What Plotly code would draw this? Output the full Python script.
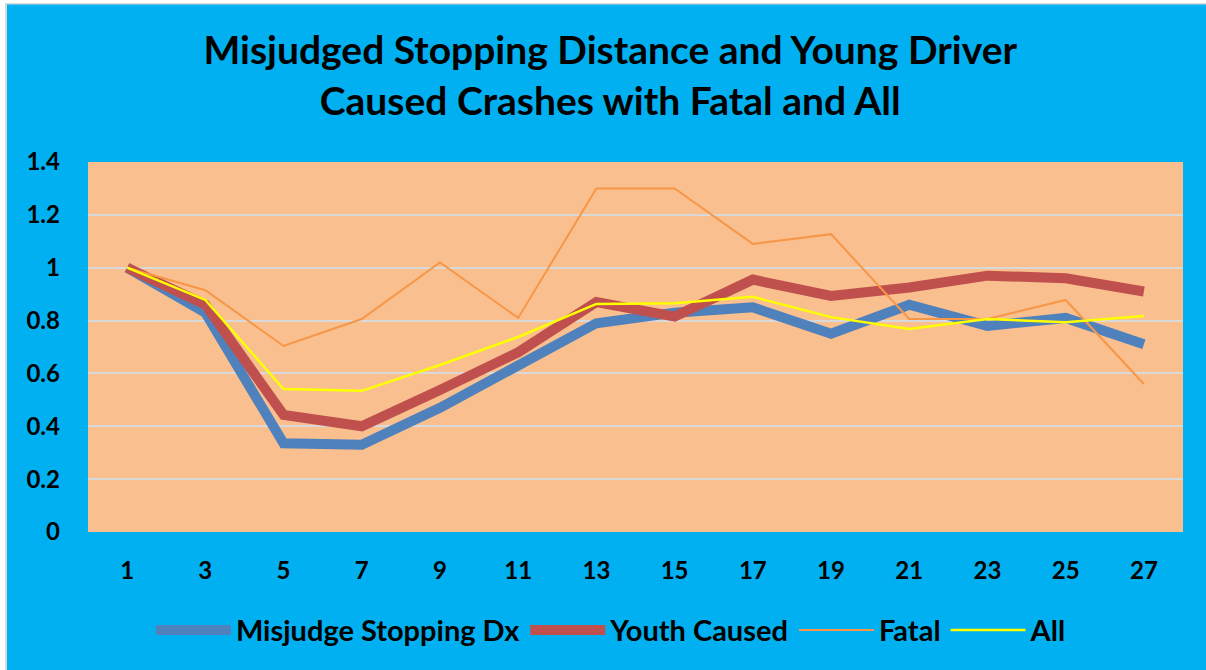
import plotly.graph_objects as go

categories = ["1", "3", "5", "7", "9", "11", "13", "15", "17", "19", "21", "23", "25", "27"]
misjudge = [1.0, 0.83, 0.336, 0.33, 0.47, 0.625, 0.79, 0.83, 0.85, 0.75, 0.86, 0.78, 0.81, 0.71]
youth = [1.0, 0.86, 0.443, 0.40, 0.537, 0.68, 0.87, 0.815, 0.955, 0.893, 0.925, 0.97, 0.96, 0.91]
fatal = [1.0, 0.915, 0.704, 0.806, 1.02, 0.81, 1.30, 1.30, 1.09, 1.127, 0.806, 0.806, 0.878, 0.56]
all_crashes = [1.0, 0.878, 0.541, 0.534, 0.632, 0.738, 0.863, 0.866, 0.89, 0.813, 0.768, 0.806, 0.794, 0.817]

FONT = "Lato"
W, H = 1206, 670
ML, MR, MT, MB = 88, 23, 162, 138
PW, PH = W - ML - MR, H - MT - MB


def px_x(p):
    return (p - ML) / PW


def px_y(p):
    return (H - MB - p) / PH


fig = go.Figure()
fig.add_trace(go.Scatter(x=categories, y=misjudge, mode="lines", name="Misjudge Stopping Dx",
                         line=dict(color="#4F81BD", width=10)))
fig.add_trace(go.Scatter(x=categories, y=youth, mode="lines", name="Youth Caused",
                         line=dict(color="#C0504D", width=10)))
fig.add_trace(go.Scatter(x=categories, y=fatal, mode="lines", name="Fatal",
                         line=dict(color="#F79646", width=2)))
fig.add_trace(go.Scatter(x=categories, y=all_crashes, mode="lines", name="All",
                         line=dict(color="#FFFF00", width=2.5)))

shapes = [
    dict(type="rect", xref="paper", yref="paper", x0=px_x(0), x1=px_x(5), y0=px_y(H), y1=px_y(0),
         fillcolor="white", line=dict(width=0)),
    dict(type="rect", xref="paper", yref="paper", x0=px_x(0), x1=px_x(W), y0=px_y(3), y1=px_y(0),
         fillcolor="white", line=dict(width=0)),
    dict(type="rect", xref="paper", yref="paper", x0=px_x(5), x1=px_x(7), y0=px_y(H), y1=px_y(3),
         fillcolor="#D9D9D9", line=dict(width=0)),
    dict(type="rect", xref="paper", yref="paper", x0=px_x(5), x1=px_x(W), y0=px_y(4.5), y1=px_y(3),
         fillcolor="#D9D9D9", line=dict(width=0)),
]

fig.update_layout(
    width=W, height=H,
    paper_bgcolor="#00B0F0",
    plot_bgcolor="#F9BF8F",
    margin=dict(l=ML, r=MR, t=MT, b=MB),
    title=dict(text="<b>Misjudged Stopping Distance and Young Driver<br>Caused Crashes with Fatal and All</b>",
               x=0.506, xanchor="center", y=0.904, yanchor="middle",
               font=dict(family=FONT, size=39, color="black")),
    font=dict(family=FONT, color="black"),
    legend=dict(orientation="h", x=0.478, xanchor="center", y=-0.265, yanchor="middle",
                font=dict(family=FONT, size=29, color="black", weight="bold"),
                bgcolor="rgba(0,0,0,0)", itemwidth=75),
    showlegend=True,
    shapes=shapes,
)
fig.update_xaxes(type="category", range=[-0.5, 13.5], showgrid=False, zeroline=False, showline=False,
                 tickfont=dict(family=FONT, size=24, color="black", weight="bold"),
                 ticks="", ticklabelstandoff=22)
fig.update_yaxes(range=[0, 1.4], dtick=0.2, showgrid=True, gridcolor="#D9D9D9", gridwidth=1.5,
                 zeroline=False, showline=False, tickformat="~g",
                 tickfont=dict(family=FONT, size=24, color="black", weight="bold"),
                 ticks="", ticklabelstandoff=27)

fig.write_html("out.html", config={"displayModeBar": False},
               post_script="document.body.style.margin='0';document.body.style.overflow='hidden';")
